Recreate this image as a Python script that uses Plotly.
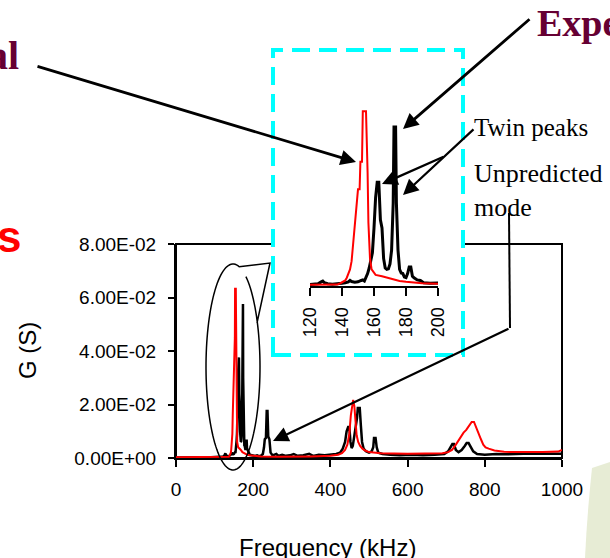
import numpy as np
import plotly.graph_objects as go

W, H = 610, 558
SANS = "Arial, Liberation Sans, sans-serif"
SERIF = "Times New Roman, Liberation Serif, serif"
MAROON = "#660033"


def px(x):
    """pixel column -> paper fraction"""
    return x / W


def py(y):
    """pixel row (from top) -> paper fraction"""
    return 1 - y / H


# ---- measured admittance spectrum (black) ----
freq_meas = [0, 20, 40, 60, 80, 100, 110, 120, 122, 125, 127, 128, 129, 131, 134, 137,
             140, 142, 144, 145, 146, 148, 150, 152, 153, 154, 155, 156, 157, 158, 159,
             160, 161, 162, 163, 164, 165, 166, 167, 168, 169, 170, 171, 172, 172.5,
             173.5, 174, 175, 176, 177, 178, 179, 180, 181, 182, 183, 184, 185, 187,
             189, 191, 195, 200, 205, 210, 215, 220, 225, 228, 230, 233, 235, 237, 239,
             242, 245, 250, 260, 265, 275, 285, 295, 305, 315, 330, 345, 355, 370, 385,
             400, 415, 425, 432, 438, 442, 446, 449, 452, 455, 458, 462, 466, 469, 471,
             476, 479, 482, 486, 492, 500, 507, 511, 513, 517, 520, 524, 535, 555, 580,
             610, 640, 670, 695, 705, 712, 716, 720, 725, 732, 740, 748, 753, 758, 764,
             770, 780, 800, 830, 860, 900, 940, 970, 1000]
g_meas = [0.0002, 0.0003, 0.0002, 0.0003, 0.0002, 0.0003, 0.0004, 0.0005, 0.0006, 0.0008,
          0.0015, 0.0018, 0.0012, 0.0008, 0.0006, 0.0007,
          0.0010, 0.0012, 0.0015, 0.0020, 0.0016, 0.0014, 0.0015, 0.0020, 0.0022, 0.0018,
          0.0030, 0.0045, 0.0065, 0.0090, 0.0120,
          0.0210, 0.0320, 0.0376, 0.0376, 0.0240, 0.0210, 0.0100, 0.0065, 0.0060, 0.0062,
          0.0080, 0.0130, 0.0300, 0.0576,
          0.0576, 0.0300, 0.0130, 0.0060, 0.0047, 0.0045, 0.0032, 0.0030, 0.0045, 0.0069,
          0.0069, 0.0035, 0.0030, 0.0022,
          0.0020, 0.0012, 0.0010, 0.0009, 0.0008, 0.0010, 0.0007, 0.0009, 0.0015, 0.0040,
          0.0070, 0.0075, 0.0176, 0.0176, 0.0080,
          0.0070, 0.0020, 0.0010, 0.0015, 0.0008, 0.0012, 0.0008, 0.0010, 0.0015, 0.0008,
          0.0010, 0.0016, 0.0008, 0.0012, 0.0010,
          0.0012, 0.0015, 0.0020, 0.0035, 0.0060, 0.0100, 0.0116, 0.0116, 0.0060, 0.0037,
          0.0045, 0.0080, 0.0110, 0.0150, 0.0187,
          0.0187, 0.0120, 0.0060, 0.0035, 0.0025, 0.0020, 0.0025, 0.0040, 0.0075, 0.0075,
          0.0040, 0.0020, 0.0015, 0.0012, 0.0010,
          0.0012, 0.0010, 0.0012, 0.0015, 0.0025, 0.0040, 0.0052, 0.0052, 0.0030, 0.0022,
          0.0030, 0.0045, 0.0056, 0.0056, 0.0040,
          0.0025, 0.0015, 0.0012, 0.0015, 0.0014, 0.0016, 0.0015, 0.0016, 0.0016]

# ---- theoretical admittance spectrum (red) ----
freq_theo = [0, 50, 100, 120, 130, 137, 139, 141, 142, 143, 144, 145, 146, 147, 148, 149,
             150, 151, 151.5, 152.5, 153, 155, 155.5, 156, 156.5, 157.5, 158.5, 161, 165,
             168, 172, 176, 180, 185, 190, 200, 220, 260, 300, 350, 400, 420, 430, 438,
             444, 449, 453, 456, 459, 462, 465, 468, 472, 477, 483, 490, 500, 530, 600,
             650, 690, 705, 715, 725, 735, 745, 752, 760, 766, 772, 777, 783, 790, 796,
             802, 810, 825, 850, 900, 950, 990, 1000]
g_theo = [0.0003, 0.0003, 0.0003, 0.0003, 0.0004, 0.0005, 0.0010, 0.0015, 0.0020, 0.0030,
          0.0045, 0.0060, 0.0090, 0.0160, 0.0210, 0.0275,
          0.0350, 0.0350, 0.0450, 0.0450, 0.0633, 0.0633, 0.0540, 0.0410, 0.0230, 0.0100,
          0.0060, 0.0040, 0.0035,
          0.0030, 0.0022, 0.0018, 0.0015, 0.0012, 0.0010, 0.0008, 0.0006, 0.0005, 0.0005,
          0.0006, 0.0008, 0.0012, 0.0018, 0.0030,
          0.0050, 0.0090, 0.0160, 0.0200, 0.0217, 0.0195, 0.0130, 0.0085, 0.0060, 0.0045,
          0.0035, 0.0028, 0.0022, 0.0018, 0.0016,
          0.0016, 0.0018, 0.0022, 0.0030, 0.0050, 0.0075, 0.0095, 0.0105, 0.0120, 0.0135,
          0.0135, 0.0115, 0.0090, 0.0070, 0.0050,
          0.0040, 0.0035, 0.0028, 0.0023, 0.0022, 0.0022, 0.0024, 0.0030]

main_xticks = [0, 200, 400, 600, 800, 1000]
main_yticks = [0, 0.02, 0.04, 0.06, 0.08]
main_yticklabels = ["0.00E+00", "2.00E-02", "4.00E-02", "6.00E-02", "8.00E-02"]
inset_xticks = [120, 140, 160, 180, 200]

fig = go.Figure()

# main panel
fig.add_trace(go.Scatter(x=freq_meas, y=g_meas, mode="lines",
                         line=dict(color="black", width=2.5), xaxis="x", yaxis="y",
                         showlegend=False, hoverinfo="skip"))
fig.add_trace(go.Scatter(x=freq_theo, y=g_theo, mode="lines",
                         line=dict(color="red", width=2), xaxis="x", yaxis="y",
                         showlegend=False, hoverinfo="skip"))
# zoomed panel around the first resonance
fig.add_trace(go.Scatter(x=freq_meas, y=g_meas, mode="lines",
                         line=dict(color="black", width=3), xaxis="x2", yaxis="y2",
                         showlegend=False, hoverinfo="skip"))
fig.add_trace(go.Scatter(x=freq_theo, y=g_theo, mode="lines",
                         line=dict(color="red", width=2), xaxis="x2", yaxis="y2",
                         showlegend=False, hoverinfo="skip"))

axis_common = dict(showgrid=False, zeroline=False, showline=True, linewidth=2,
                   linecolor="black", ticks="outside", tickwidth=2, tickcolor="black",
                   automargin=False)

fig.update_layout(
    width=W, height=H, autosize=False,
    margin=dict(l=0, r=0, t=0, b=0, pad=0, autoexpand=False),
    paper_bgcolor="white",
    plot_bgcolor="rgba(0,0,0,0)",
    xaxis=dict(domain=[px(176), px(562)], range=[0, 1000], tickvals=main_xticks,
               ticklen=7, anchor="y", ticklabelstandoff=6,
               tickfont=dict(family=SANS, size=19, color="black"), **axis_common),
    yaxis=dict(domain=[py(458), py(244)], range=[0, 0.08], tickvals=main_yticks,
               ticktext=main_yticklabels, ticklen=6, anchor="x", ticklabelstandoff=8,
               tickfont=dict(family=SANS, size=19, color="black"), **axis_common),
    xaxis2=dict(domain=[px(310), px(438)], range=[120, 200], tickvals=inset_xticks,
                ticklen=8, anchor="y2", tickangle=-90, ticklabelstandoff=4,
                tickfont=dict(family=SANS, size=18, color="black"), **axis_common),
    yaxis2=dict(domain=[py(286), py(65)], range=[0, 0.08], anchor="x2", visible=False),
)

# callout outline: ellipse around the first resonance with a pointer to the inset
cx, cy, rx, ry = 233, 367, 27, 103
a_start = np.arctan2(323 - cy, 257 - cx)
a_end = np.arctan2(291 - cy, 251 - cx) + 2 * np.pi
theta = np.linspace(a_start, a_end, 120)
pts = [(cx + rx * np.cos(t), cy + ry * np.sin(t)) for t in theta]
pts += [(270, 263), (257, 323)]
callout = "M " + " L ".join(f"{px(x):.5f},{py(y):.5f}" for x, y in pts)

fig.update_layout(shapes=[
    # soft background accent
    dict(type="path", xref="paper", yref="paper", layer="below",
         path=f"M {px(592)},{py(468)} Q {px(587)},{py(515)} {px(585)},{py(558)} "
              f"L {px(610)},{py(558)} L {px(610)},{py(462)} Z",
         fillcolor="#e7ecd5", line=dict(width=0)),
    # main plot frame
    dict(type="rect", xref="paper", yref="paper", layer="below",
         x0=px(176), x1=px(562), y0=py(458), y1=py(244),
         line=dict(color="black", width=2)),
    # inset frame
    dict(type="rect", xref="paper", yref="paper", layer="below",
         x0=px(273), x1=px(463), y0=py(355), y1=py(50),
         fillcolor="white", line=dict(color="#00FFFF", width=4, dash="18px,9px")),
    dict(type="path", xref="paper", yref="paper", layer="above", path=callout,
         line=dict(color="black", width=1.5)),
    # leader for the unpredicted mode label
    dict(type="line", xref="paper", yref="paper", layer="above",
         x0=px(509), y0=py(213), x1=px(510), y1=py(328),
         line=dict(color="black", width=2)),
])


def arrow(tail, tip, width=2.5, size=1.2):
    return dict(x=px(tip[0]), y=py(tip[1]), xref="paper", yref="paper",
                ax=tail[0] - tip[0], ay=tail[1] - tip[1], axref="pixel", ayref="pixel",
                text="", showarrow=True, arrowhead=2, arrowsize=size,
                arrowwidth=width, arrowcolor="black", standoff=0)


def label(text, x, y, size, family, color="black", bold=False, xanchor="left",
          angle=0, align="left"):
    if bold:
        text = f"<b>{text}</b>"
    return dict(x=px(x), y=py(y), xref="paper", yref="paper", text=text,
                showarrow=False, xanchor=xanchor, yanchor="middle", textangle=angle,
                align=align, font=dict(family=family, size=size, color=color))


fig.update_layout(annotations=[
    label("al", 21, 55.5, 40, SERIF, MAROON, bold=True, xanchor="right"),
    label("Expe", 535, 23, 38, SERIF, MAROON, bold=True),
    label("s", 23, 236.5, 44, SANS, "red", bold=True, xanchor="right"),
    label("Twin peaks", 472, 127.5, 25, SERIF),
    label("Unpredicted<br>mode", 472, 190, 26, SERIF),
    label("Frequency (kHz)", 327, 547, 24, SANS, xanchor="center", align="center"),
    label("G (S)", 27, 351, 24, SANS, xanchor="center", angle=-90, align="center"),
    arrow((36, 66), (356, 162), 2.8, 1.1),
    arrow((531, 18), (403, 129), 2.8, 1.1),
    arrow((475, 128), (403, 195), 2.2, 1.4),
    arrow((445, 156), (382, 184), 2.2, 1.4),
    arrow((510, 328), (273, 441), 2.2, 1.4),
])

# the figure fills the page exactly, so drop the default body margin
fig.write_html("out.html",
               post_script="document.body.style.margin='0';"
                           "document.body.style.overflow='hidden';")
